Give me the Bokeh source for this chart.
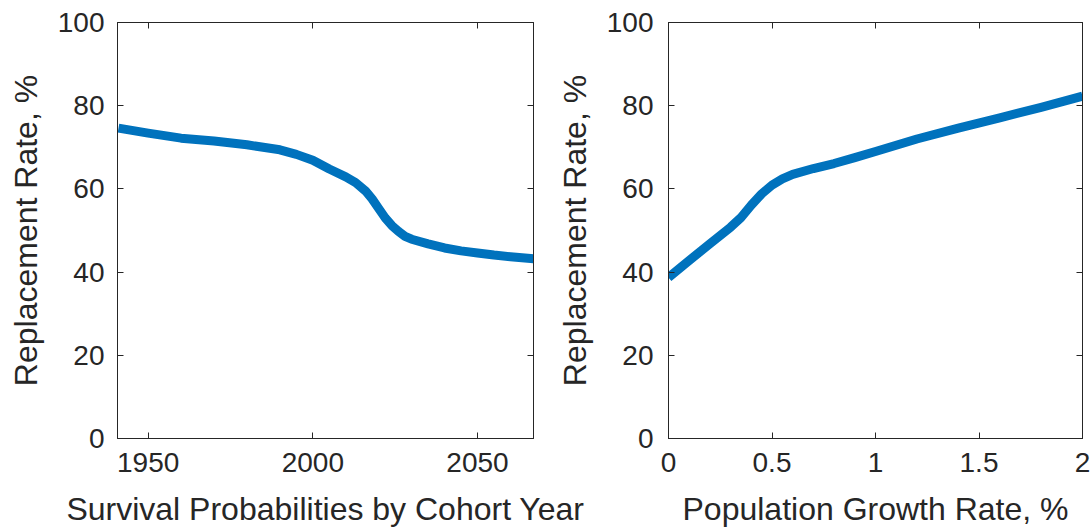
from bokeh.plotting import figure
from bokeh.layouts import row
from bokeh.models import Range1d, FixedTicker, LinearAxis
from bokeh.embed import file_html
from bokeh.resources import INLINE

# ---- data ----
cohort_years = [1941, 1950, 1960, 1970, 1980, 1990, 1995, 2000, 2005, 2010, 2013,
                2016, 2018, 2020, 2022, 2024, 2026, 2028, 2030, 2035, 2040, 2045,
                2050, 2055, 2060, 2067]
rate_by_cohort = [74.6, 73.4, 72.2, 71.5, 70.6, 69.4, 68.3, 66.9, 64.8, 62.9, 61.5,
                  59.5, 57.6, 55.3, 53.0, 51.2, 49.8, 48.6, 47.9, 46.8, 45.8, 45.1,
                  44.6, 44.1, 43.7, 43.2]

growth_rate = [0.0, 0.1, 0.2, 0.3, 0.35, 0.4, 0.45, 0.5, 0.55, 0.6, 0.7, 0.8, 0.9,
               1.0, 1.2, 1.4, 1.6, 1.8, 2.0]
rate_by_growth = [38.7, 42.8, 46.8, 50.8, 53.1, 56.1, 58.8, 60.9, 62.4, 63.5, 64.9,
                  66.1, 67.5, 69.0, 72.0, 74.6, 77.1, 79.6, 82.3]

y_ticks = [0, 20, 40, 60, 80, 100]
x1_ticks = [1950, 2000, 2050]
x2_ticks = [0, 0.5, 1, 1.5, 2]
x2_tick_labels = ["0", "0.5", "1", "1.5", "2"]

x1_label = "Survival Probabilities by Cohort Year"
x2_label = "Population Growth Rate, %"
y_label = "Replacement Rate, %"

LINE_COLOR = "#0072BD"
INK = "#262626"
FONT = "Liberation Sans"
OVERLAP = 70


def style_axis(ax, ticks, show_labels=True):
    ax.ticker = FixedTicker(ticks=ticks)
    ax.minor_tick_line_color = None
    ax.major_tick_in = 6
    ax.major_tick_out = 0
    ax.major_tick_line_color = INK
    ax.axis_line_color = INK
    ax.major_label_text_font = FONT
    ax.axis_label_text_font = FONT
    ax.axis_label_text_color = INK
    ax.axis_label_text_font_style = "normal"
    if show_labels:
        ax.major_label_text_color = INK
        ax.major_label_text_font_size = "28px"
        ax.axis_label_text_font_size = "32px"
    else:
        ax.major_label_text_color = None
        ax.major_label_text_font_size = "1px"
        ax.major_label_standoff = 0


def make_panel(xs, ys, x_range, xticks, xlabel, border_left, border_right, fw,
               y_std, y_lbl_std, overrides=None):
    p = figure(frame_width=fw, frame_height=416, output_backend="svg",
               toolbar_location=None, x_range=x_range, y_range=Range1d(0, 100),
               min_border_left=border_left, min_border_right=border_right,
               min_border_top=22, min_border_bottom=91)
    p.grid.visible = False
    p.outline_line_color = INK
    p.outline_line_alpha = 1
    p.background_fill_color = "white"
    p.line(xs, ys, line_color=LINE_COLOR, line_width=9, line_join="round")

    xa = p.xaxis[0]
    style_axis(xa, xticks)
    xa.axis_label = xlabel
    xa.major_label_standoff = 14
    xa.axis_label_standoff = 16
    xa.axis_label_text_line_height = 1.0
    if overrides:
        xa.major_label_overrides = overrides

    ya = p.yaxis[0]
    style_axis(ya, y_ticks)
    ya.axis_label = y_label
    ya.major_label_standoff = y_std
    ya.axis_label_standoff = y_lbl_std

    top = LinearAxis()
    style_axis(top, xticks, show_labels=False)
    p.add_layout(top, "above")
    right = LinearAxis()
    style_axis(right, y_ticks, show_labels=False)
    p.add_layout(right, "right")
    return p


p1 = make_panel(cohort_years, rate_by_cohort, Range1d(1940.7, 2067), x1_ticks,
                x1_label, 117, 13 + OVERLAP, 416, 13, 11)
p1.border_fill_color = "white"

ov = {t: s for t, s in zip(x2_ticks, x2_tick_labels)}
p2 = make_panel(growth_rate, rate_by_growth, Range1d(0, 2), x2_ticks,
                x2_label, 122, 10, 414, 15, 11, overrides=ov)
p2.border_fill_alpha = 0
p2.margin = (0, 0, 0, -OVERLAP)

layout = row(p1, p2)
open("out.html", "w").write(file_html(layout, INLINE))
